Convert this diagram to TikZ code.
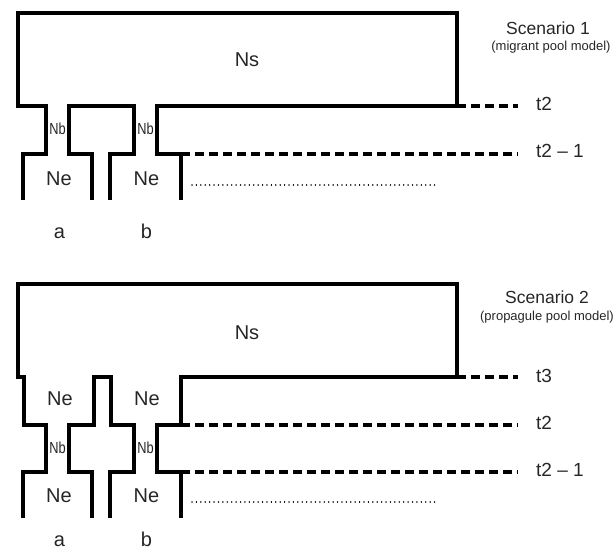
\documentclass[tikz,border=0pt]{standalone}
\usepackage{fontspec}
\setmainfont{Liberation Sans}
\begin{document}
\begin{tikzpicture}[x=1pt,y=-1pt,
  wall/.style={line width=3.2pt, line join=miter, line cap=butt},
  lvl/.style={line width=3.2pt, dash pattern=on 9pt off 5pt},
  dotline/.style={line width=1.5pt, dash pattern=on 0.01pt off 4.4pt, line cap=round},
  big/.style={font=\fontsize{20}{24}\selectfont, inner sep=0pt, text=black!85},
  small/.style={font=\fontsize{16}{18}\selectfont, inner sep=0pt, text=black!85},
  tlab/.style={font=\fontsize{19}{22}\selectfont, inner sep=0pt, anchor=west, text=black!85},
  title/.style={font=\fontsize{17.5}{20}\selectfont, inner sep=0pt, text=black!85},
  sub/.style={font=\fontsize{13}{15}\selectfont, inner sep=0pt, text=black!85}
]
\useasboundingbox (0,0) rectangle (614,551);

% ---------- Scenario 1 ----------
\draw[wall] (23,200) -- (23,154) -- (46,154) -- (46,106) -- (18,106) -- (18,13)
  -- (457,13) -- (457,106) -- (157,106) -- (157,154) -- (181,154) -- (181,200);
\draw[wall] (92,200) -- (92,154) -- (69,154) -- (69,106) -- (134,106)
  -- (134,154) -- (110,154) -- (110,200);

\coordinate (s1a) at (457,106);
\coordinate (s1b) at (518,106);
\coordinate (s1c) at (181,154);
\coordinate (s1d) at (518,154);
\coordinate (s1e) at (192,185);
\coordinate (s1f) at (437,185);
\draw[lvl] (s1a) -- (s1b);
\draw[lvl] (s1c) -- (s1d);
\draw[dotline] (s1e) -- (s1f);

\node[big] (ns1) at (247,60) {Ns};
\node[big] (ne1a) at (59,179) {Ne};
\node[big] (ne1b) at (146.5,179) {Ne};
\node[small] (nb1a) at (57.5,129) {\scalebox{0.8}[1]{Nb}};
\node[small] (nb1b) at (145.5,129) {\scalebox{0.8}[1]{Nb}};
\node[big, anchor=base] (a1) at (59.5,238) {a};
\node[big, anchor=base] (b1) at (146.5,238) {b};
\node[tlab] (t1a) at (536,104) {t2};
\node[tlab] (t1b) at (536,151) {t2 -- 1};
\node[title] (sc1) at (548,28.5) {Scenario 1};
\node[sub] (sub1) at (551,47.5) {(migrant pool model)};

% ---------- Scenario 2 ----------
\draw[wall] (23,518) -- (23,472) -- (46,472) -- (46,425) -- (24,425) -- (24,377)
  -- (18,377) -- (18,284) -- (457,284) -- (457,377) -- (181,377) -- (181,425)
  -- (157,425) -- (157,472) -- (181,472) -- (181,518);
\draw[wall] (92,518) -- (92,472) -- (69,472) -- (69,425) -- (94,425) -- (94,377)
  -- (111,377) -- (111,425) -- (134,425) -- (134,472) -- (110,472) -- (110,518);

\coordinate (s2a) at (457,377);
\coordinate (s2b) at (518,377);
\coordinate (s2c) at (181,425);
\coordinate (s2d) at (518,425);
\coordinate (s2e) at (181,472);
\coordinate (s2f) at (518,472);
\coordinate (s2g) at (192,502);
\coordinate (s2h) at (437,502);
\draw[lvl] (s2a) -- (s2b);
\draw[lvl] (s2c) -- (s2d);
\draw[lvl] (s2e) -- (s2f);
\draw[dotline] (s2g) -- (s2h);

\node[big] (ns2) at (247,333) {Ns};
\node[big] (ne2a) at (60,399) {Ne};
\node[big] (ne2b) at (147,399) {Ne};
\node[big] (ne2c) at (59,496) {Ne};
\node[big] (ne2d) at (146.5,496) {Ne};
\node[small] (nb2a) at (57.5,448) {\scalebox{0.8}[1]{Nb}};
\node[small] (nb2b) at (145.5,448) {\scalebox{0.8}[1]{Nb}};
\node[big, anchor=base] (a2) at (59.5,546) {a};
\node[big, anchor=base] (b2) at (146.5,546) {b};
\node[tlab] (t2a) at (536,376) {t3};
\node[tlab] (t2b) at (536,423) {t2};
\node[tlab] (t2c) at (536,470) {t2 -- 1};
\node[title] (sc2) at (547,297) {Scenario 2};
\node[sub] (sub2) at (547,317) {(propagule pool model)};
\end{tikzpicture}
\end{document}
